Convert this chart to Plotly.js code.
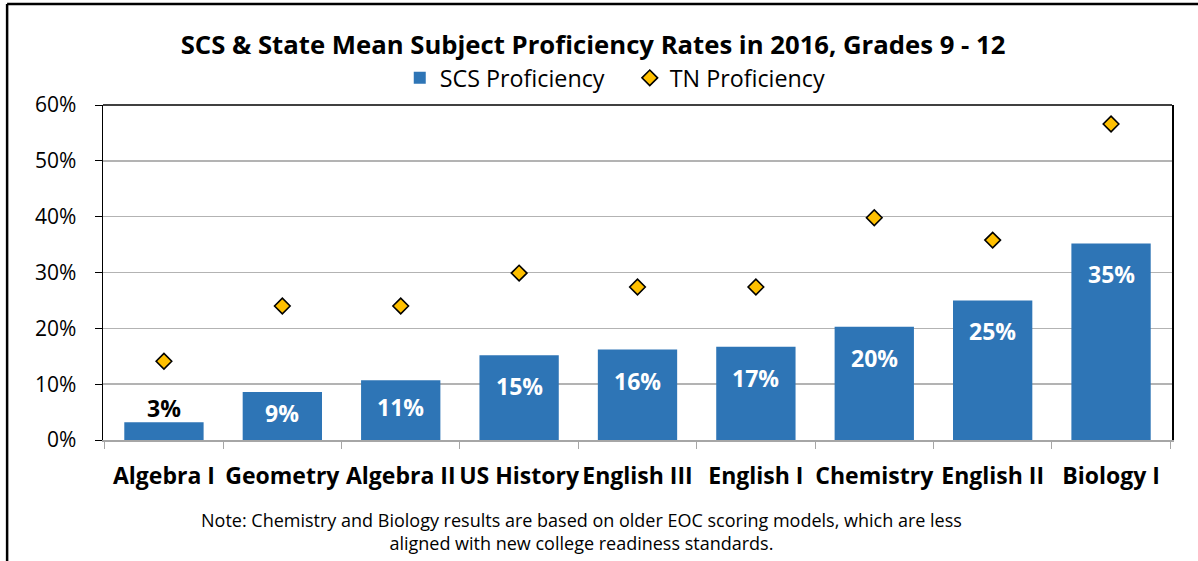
<!DOCTYPE html>
<html><head><meta charset="utf-8">
<script src="https://cdn.plot.ly/plotly-3.0.1.min.js"></script>
<style>body{margin:0;background:#fff}#chart{width:1198px;height:561px}</style>
</head><body><div id="chart"></div>
<script>
const subjects = ["Algebra I","Geometry","Algebra II","US History","English III","English I","Chemistry","English II","Biology I"];
const scsProficiency = [3.2, 8.6, 10.7, 15.2, 16.2, 16.7, 20.3, 25.0, 35.2];
const tnProficiency = [14.1, 24.0, 24.0, 29.9, 27.4, 27.4, 39.8, 35.8, 56.6];
const yTicks = [0,10,20,30,40,50,60];
const yTickLabels = yTicks.map(v => v + "%");

const FONT = "'Open Sans', Lato, sans-serif";
const PX_PER_UNIT = 335 / 60;

const traces = [
  {
    type: "bar", name: "SCS Proficiency", x: subjects, y: scsProficiency,
    marker: {color: "#2E75B6", line: {width: 0}}, textposition: "none"
  },
  {
    type: "scatter", mode: "markers", name: "TN Proficiency", x: subjects, y: tnProficiency,
    marker: {symbol: "diamond", size: 12, color: "#FFC000", line: {color: "#000", width: 1.6}}
  }
];

const barLabels = subjects.map((s, i) => {
  const v = scsProficiency[i];
  const h = v * PX_PER_UNIT;
  const inside = v >= 5;
  return {
    xref: "x", yref: "y", x: s, y: v, showarrow: false,
    text: "<b>" + Math.round(v) + "%</b>",
    yanchor: "middle", xanchor: "center",
    yshift: inside ? -Math.min(31, h / 2 - 3) : 14,
    font: {family: FONT, size: 23, color: inside ? "#FFFFFF" : "#000000"}
  };
});

const layout = {
  width: 1198, height: 561,
  margin: {l: 103, r: 26, t: 105, b: 121},
  paper_bgcolor: "#fff", plot_bgcolor: "#fff",
  font: {family: FONT, color: "#000"},
  bargap: 0.33,
  showlegend: true,
  title: {text: "<b>SCS & State Mean Subject Proficiency Rates in 2016, Grades 9 - 12</b>", font: {family: FONT, size: 25.7, color: "#000"}, x: 0.495, xanchor: "center", y: 0.92, yanchor: "middle"},
  legend: {orientation: "h", x: 0.2776, xanchor: "left", y: 1.08, yanchor: "middle", font: {family: FONT, size: 23.3, color: "#000"}, itemwidth: 30, entrywidth: 185, bgcolor: "rgba(0,0,0,0)"},
  xaxis: {
    type: "category", tickson: "boundaries", ticks: "outside", ticklen: 7, tickcolor: "#A6A6A6", tickangle: 0,
    showline: true, linecolor: "#A6A6A6", linewidth: 1.5, showgrid: false,
    tickfont: {family: FONT, size: 23, color: "#000", weight: "bold"}, ticklabelstandoff: 15, fixedrange: true
  },
  yaxis: {
    range: [0, 60], tickvals: yTicks, ticktext: yTickLabels, ticks: "outside", ticklen: 7, tickcolor: "#000",
    showline: true, linecolor: "#000", linewidth: 1.5, mirror: true,
    gridcolor: "#B3B3B3", gridwidth: 1.5, zeroline: false,
    tickfont: {family: FONT, size: 21, color: "#000"}, ticklabelstandoff: 14
  },
  shapes: [
    {type: "line", xref: "paper", yref: "paper", x0: 0, x1: 1, y0: 1, y1: 1, line: {color: "#000", width: 1.5}},
    {type: "line", xref: "paper", yref: "paper", x0: -0.0897, x1: 1.03, y0: 1.3015, y1: 1.3015, line: {color: "#000", width: 2.5}},
    {type: "line", xref: "paper", yref: "paper", x0: -0.0897, x1: -0.0897, y0: 1.3015, y1: -0.37, line: {color: "#000", width: 2.5}}
  ],
  annotations: barLabels.concat([
    {xref: "paper", yref: "paper", x: 0.448, y: -0.272, xanchor: "center", yanchor: "middle", showarrow: false,
     text: "Note: Chemistry and Biology results are based on older EOC scoring models, which are less<br>aligned with new college readiness standards.",
     font: {family: FONT, size: 18, color: "#000"}, align: "center"}
  ])
};

Plotly.newPlot("chart", traces, layout, {staticPlot: true});
</script></body></html>
